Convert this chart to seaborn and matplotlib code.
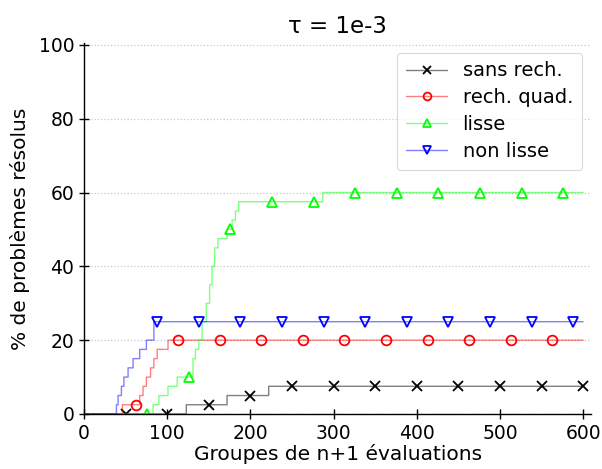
import numpy as np
import pandas as pd
import matplotlib
matplotlib.use("Agg")
import matplotlib.pyplot as plt
import seaborn as sns

# Step change points (x where the curve jumps, new % value)
series_names = ["sans rech.", "rech. quad.", "lisse", "non lisse"]

black_x = [0, 123, 172, 222]
black_y = [0, 2.5, 5, 7.5]

red_x = [0, 46, 67, 71, 75, 80, 84, 88, 101]
red_y = [0, 2.5, 5, 7.5, 10, 12.5, 15, 17.5, 20]

green_x = [0, 83, 90, 101, 112, 131, 134, 138, 142, 147, 151, 154, 157, 161, 172, 178, 182, 186, 287]
green_y = [0, 2.5, 5, 7.5, 10, 15, 17.5, 20, 25, 30, 35, 40, 45, 47.5, 50, 52.5, 55, 57.5, 60]

blue_x = [0, 39, 41, 45, 48, 53, 59, 67, 75, 84]
blue_y = [0, 2.5, 5, 7.5, 10, 12.5, 15, 17.5, 20, 25]

x_max = 600

sns.set_theme(style="white")
plt.rcParams['font.family'] = ['DejaVu Sans']
plt.rcParams['text.color'] = 'black'

fig = plt.figure(figsize=(6.02, 4.69), dpi=100)
ax = fig.add_axes([0.1395, 0.1173, 0.8430, 0.7910])

grid = np.arange(0, x_max + 1)

def expand(xs, ys):
    idx = np.searchsorted(np.array(xs), grid, side="right") - 1
    return pd.DataFrame({"x": grid, "y": np.array(ys)[idx]})

styles = [
    (black_x, black_y, (0, 0, 0, 0.5), "#000000", "x", 50),
    (red_x, red_y, (1, 0, 0, 0.5), "#ff0000", "o", 63),
    (green_x, green_y, (0, 1, 0, 0.5), "#00ff00", "^", 76),
    (blue_x, blue_y, (0, 0, 1, 0.5), "#0000ff", "v", 88),
]

for name, (xs, ys, lc, mc, mk, off) in zip(series_names, styles):
    df = expand(xs, ys)
    sns.lineplot(data=df, x="x", y="y", ax=ax, color=lc, label=name,
                 drawstyle="steps-post", marker=mk, markevery=(off, 50),
                 markersize=7, markeredgecolor=mc, markerfacecolor="none",
                 markeredgewidth=1.3, linewidth=1.0, errorbar=None)

ax.set_xlim(0, 610)
ax.set_ylim(0, 100.5)
ax.set_xticks([0, 100, 200, 300, 400, 500, 600])
ax.set_yticks([0, 20, 40, 60, 80, 100])
ax.yaxis.grid(True, linestyle=":", color="#c8c8c8", linewidth=0.9)
ax.xaxis.grid(False)
for s in ["top", "right"]:
    ax.spines[s].set_visible(False)
for s in ["left", "bottom"]:
    ax.spines[s].set_color("black")
    ax.spines[s].set_linewidth(1.0)
ax.tick_params(axis="both", which="major", direction="inout", length=7,
               width=1, colors="black", labelsize=13.5, left=True, bottom=True)

ax.set_xlabel("Groupes de n+1 évaluations", fontsize=14.5, color="black", labelpad=1)
ax.set_ylabel("% de problèmes résolus", fontsize=14.5, color="black", labelpad=6)
ax.set_title("τ = 1e-3", fontsize=16.5, color="black", pad=7)

leg = ax.legend(loc="upper right", fontsize=14, frameon=True, fancybox=True,
                borderaxespad=0.5, handlelength=2.1, labelspacing=0.4,
                borderpad=0.45, markerscale=0.8)
leg.get_frame().set_edgecolor("#d0d0d0")
leg.get_frame().set_linewidth(0.8)
for t in leg.get_texts():
    t.set_color("black")

fig.savefig("out.png", dpi=100)
